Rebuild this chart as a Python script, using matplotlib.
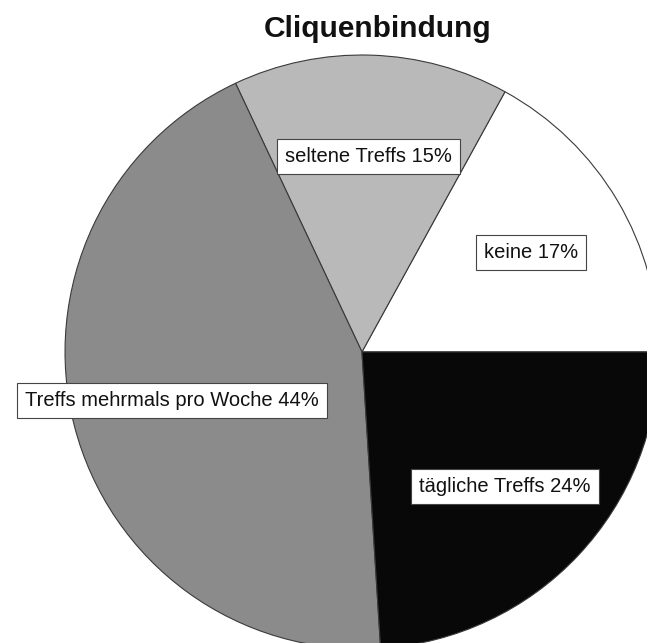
import matplotlib
matplotlib.use("Agg")
import matplotlib.pyplot as plt

# data
categories = ["keine", "seltene Treffs", "Treffs mehrmals pro Woche", "tägliche Treffs"]
shares = [17, 15, 44, 24]
colors = ["#ffffff", "#b9b9b9", "#8b8b8b", "#080808"]

plt.rcParams["font.family"] = ["Liberation Sans", "DejaVu Sans"]

fig = plt.figure(figsize=(6.47, 6.43), dpi=100)
ax = fig.add_axes([0, 0, 1, 1])

labels = [f"{c} {s}%" for c, s in zip(categories, shares)]
wedges, texts = ax.pie(
    shares,
    labels=labels,
    colors=colors,
    startangle=0,
    counterclock=True,
    labeldistance=0.66,
    wedgeprops=dict(edgecolor="#3a3a3a", linewidth=0.8),
    textprops=dict(fontsize=14.5, color="#111111"),
)
for t in texts:
    t.set_horizontalalignment("center")
    t.set_verticalalignment("center")
    t.set_bbox(dict(boxstyle="square,pad=0.4", facecolor="white",
                    edgecolor="#444444", linewidth=0.8))

# pie centre sits right of middle and is cut off at right and bottom
ax.set_xlim(-1.219, 0.960)
ax.set_ylim(-0.980, 1.185)
ax.set_aspect("equal")
ax.axis("off")

fig.text(0.584, 0.955, "Cliquenbindung", ha="center", va="center",
         fontsize=21.5, fontweight="bold", color="#111111")

fig.savefig("out.png", dpi=100, facecolor="white")
